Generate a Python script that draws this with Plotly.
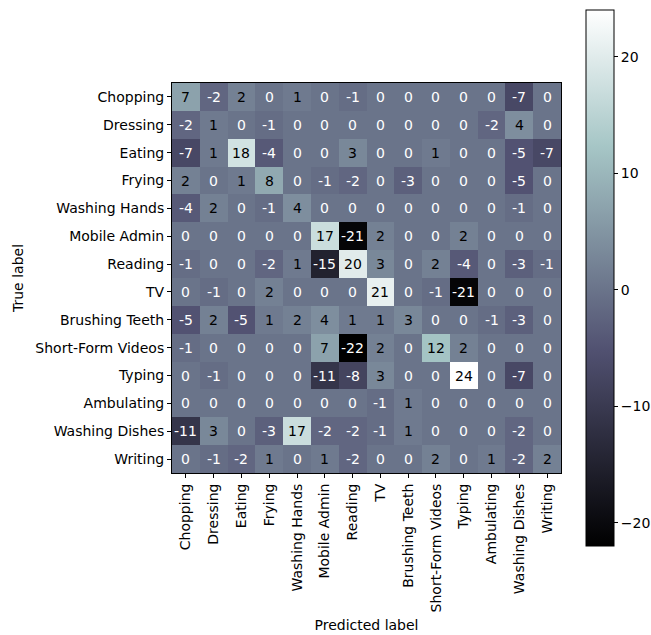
import plotly.graph_objects as go

labels = ["Chopping", "Dressing", "Eating", "Frying", "Washing Hands", "Mobile Admin",
          "Reading", "TV", "Brushing Teeth", "Short-Form Videos", "Typing",
          "Ambulating", "Washing Dishes", "Writing"]

row_chopping = [7, -2, 2, 0, 1, 0, -1, 0, 0, 0, 0, 0, -7, 0]
row_dressing = [-2, 1, 0, -1, 0, 0, 0, 0, 0, 0, 0, -2, 4, 0]
row_eating = [-7, 1, 18, -4, 0, 0, 3, 0, 0, 1, 0, 0, -5, -7]
row_frying = [2, 0, 1, 8, 0, -1, -2, 0, -3, 0, 0, 0, -5, 0]
row_washing_hands = [-4, 2, 0, -1, 4, 0, 0, 0, 0, 0, 0, 0, -1, 0]
row_mobile_admin = [0, 0, 0, 0, 0, 17, -21, 2, 0, 0, 2, 0, 0, 0]
row_reading = [-1, 0, 0, -2, 1, -15, 20, 3, 0, 2, -4, 0, -3, -1]
row_tv = [0, -1, 0, 2, 0, 0, 0, 21, 0, -1, -21, 0, 0, 0]
row_brushing_teeth = [-5, 2, -5, 1, 2, 4, 1, 1, 3, 0, 0, -1, -3, 0]
row_short_form = [-1, 0, 0, 0, 0, 7, -22, 2, 0, 12, 2, 0, 0, 0]
row_typing = [0, -1, 0, 0, 0, -11, -8, 3, 0, 0, 24, 0, -7, 0]
row_ambulating = [0, 0, 0, 0, 0, 0, 0, -1, 1, 0, 0, 0, 0, 0]
row_washing_dishes = [-11, 3, 0, -3, 17, -2, -2, -1, 1, 0, 0, 0, -2, 0]
row_writing = [0, -1, -2, 1, 0, 1, -2, 0, 0, 2, 0, 1, -2, 2]

z = [row_chopping, row_dressing, row_eating, row_frying, row_washing_hands,
     row_mobile_admin, row_reading, row_tv, row_brushing_teeth, row_short_form,
     row_typing, row_ambulating, row_washing_dishes, row_writing]

zmin = min(min(r) for r in z)
zmax = max(max(r) for r in z)
thresh = (zmin + zmax) / 2.0

bone = [[0.0, "rgb(0,0,0)"],
        [0.365079, "rgb(81,81,113)"],
        [0.746032, "rgb(166,198,198)"],
        [1.0, "rgb(255,255,255)"]]

FONT = "DejaVu Sans"

fig = go.Figure()
fig.add_trace(go.Heatmap(
    z=z, x=labels, y=labels, colorscale=bone, zmin=zmin, zmax=zmax,
    xgap=0, ygap=0, hoverinfo="skip",
    colorbar=dict(
        x=(586 - 172) / 389, xanchor="left", xpad=0, thickness=28,
        len=536 / 390, lenmode="fraction", y=0.5, yanchor="middle", ypad=0,
        outlinecolor="black", outlinewidth=1,
        tickvals=[-20, -10, 0, 10, 20], ticks="outside", ticklen=4,
        tickcolor="black", tickfont=dict(family=FONT, size=14, color="black"),
    ),
))

annotations = []
for i, ylab in enumerate(labels):
    for j, xlab in enumerate(labels):
        v = z[i][j]
        annotations.append(dict(
            x=xlab, y=ylab, text=str(v), showarrow=False,
            font=dict(family=FONT, size=14, color="white" if v < thresh else "black"),
        ))

fig.update_layout(
    width=651, height=635,
    margin=dict(l=172, r=90, t=83, b=162, autoexpand=False),
    paper_bgcolor="white", plot_bgcolor="white",
    annotations=annotations,
    font=dict(family=FONT, size=14, color="black"),
    xaxis=dict(
        title=dict(text="Predicted label", font=dict(family=FONT, size=14), standoff=8),
        tickangle=-90, ticks="outside", ticklen=4, tickcolor="black",
        showline=True, linecolor="black", linewidth=1, mirror=True,
        showgrid=False, zeroline=False,
        tickfont=dict(family=FONT, size=14),
    ),
    yaxis=dict(
        title=dict(text="True label", font=dict(family=FONT, size=14), standoff=8),
        autorange="reversed", ticks="outside", ticklen=4, tickcolor="black",
        showline=True, linecolor="black", linewidth=1, mirror=True,
        showgrid=False, zeroline=False,
        tickfont=dict(family=FONT, size=14),
    ),
)

fig.write_html("out.html", config={"displayModeBar": False},
               post_script="document.body.style.margin='0';")
